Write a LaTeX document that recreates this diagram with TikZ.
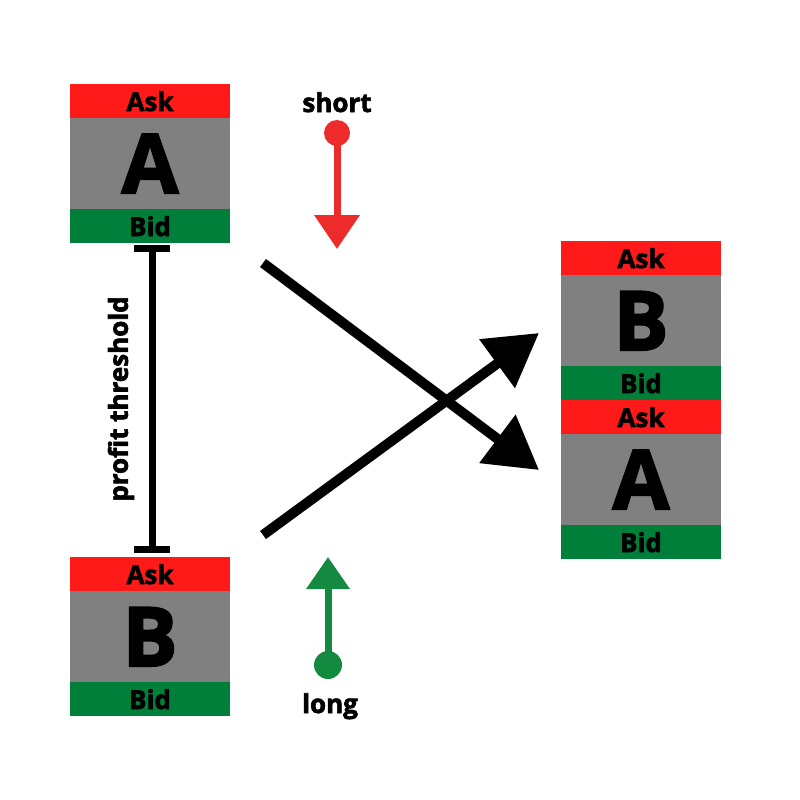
\documentclass[tikz,border=0pt]{standalone}
\usepackage{fontspec}
\setmainfont{Open Sans}[BoldFeatures={FakeBold=2.5}]
\usetikzlibrary{arrows.meta}
\definecolor{askred}{HTML}{FF1A1A}
\definecolor{bidgreen}{HTML}{007F3A}
\definecolor{midgray}{HTML}{808080}
\definecolor{arrred}{HTML}{EE2B2B}
\definecolor{arrgreen}{HTML}{138A40}
\tikzset{
 lbl/.style={font=\fontsize{26}{26}\selectfont\bfseries, inner sep=0pt, anchor=base},
 big/.style={font=\fontsize{82}{82}\selectfont\bfseries, inner sep=0pt, anchor=base},
}
\newcommand{\quoteblock}[4]{% x0,y0 (top),letter,name
 \fill[askred] (#1,#2) rectangle ++(160,34);
 \fill[midgray] (#1,#2+34) rectangle ++(160,91);
 \fill[bidgreen] (#1,#2+125) rectangle ++(160,34);
 \node[lbl] (#4ask) at (#1+80,#2+27) {Ask};
 \node[big] (#4let) at (#1+80,#2+109) {#3};
 \node[lbl] (#4bid) at (#1+80,#2+152) {Bid};
}
\begin{document}
\begin{tikzpicture}[x=1pt,y=-1pt]
\useasboundingbox[fill=white] (0,0) rectangle (800,800);
\quoteblock{70}{84}{A}{la}
\quoteblock{70}{557}{B}{lb}
\quoteblock{561}{241}{B}{rb}
\quoteblock{561}{400}{A}{ra}
\coordinate (t1) at (152,245);
\coordinate (t2) at (152,553);
\draw[line width=7, {Bar[width=36,line width=7]}-{Bar[width=36,line width=7]}] (t1) -- (t2);
\node[lbl, rotate=90, anchor=center] (pt) at (121,399) {profit threshold};
\node[lbl] (short) at (337,112) {short};
\fill[arrred] (337,133) circle (13) coordinate (sc);
\coordinate (st) at (337,249);
\draw[arrred, line width=7, -{Triangle[length=34,width=44]}] (sc) -- (st);
\node[lbl] (long) at (330,713) {long};
\fill[arrgreen] (328,665) circle (14) coordinate (lc);
\coordinate (lt) at (328,557);
\draw[arrgreen, line width=7, -{Triangle[length=32,width=42]}] (lc) -- (lt);
\coordinate (a1) at (263,263);
\coordinate (a2) at (539,470);
\coordinate (b1) at (263,535);
\coordinate (b2) at (539,333);
\draw[line width=10, -{Triangle[length=52,width=58]}] (a1) -- (a2);
\draw[line width=10, -{Triangle[length=52,width=58]}] (b1) -- (b2);
\end{tikzpicture}
\end{document}
